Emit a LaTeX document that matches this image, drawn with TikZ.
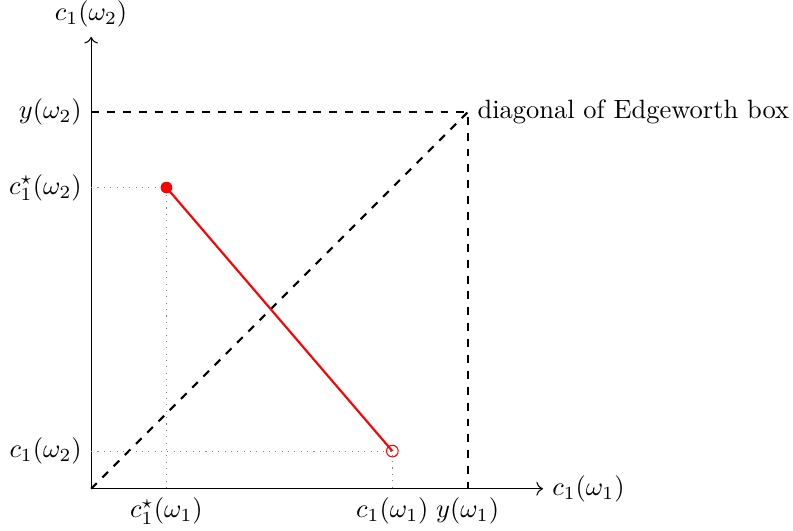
\documentclass[tikz,border=0pt]{standalone}
\usepackage{amsmath,amssymb}
\usetikzlibrary{arrows.meta,calc}

\begin{document}
\begin{tikzpicture}[x=1cm, y=1cm,
    guide/.style={gray, dotted},
    boxline/.style={black, dashed, thick},
    contract/.style={red, thick}]
  \useasboundingbox (-1.21,-0.56) rectangle (9.32,6.49);

  % Key points
  \coordinate (O) at (0,0);
  \coordinate (top) at (5,5);
  \coordinate (star) at (1,4);
  \coordinate (endow) at (4,0.5);

  % Axes
  \draw[->] (O) -- (6,0) node[right] (xlab) {$c_1(\omega_1)$};
  \draw[->] (O) -- (0,6) node[above] (ylab) {$c_1(\omega_2)$};

  % Edgeworth box and its diagonal
  \draw[boxline] (0,5) -- (top) -- (5,0);
  \draw[boxline] (O) -- (top) node[right] (diag) {diagonal of Edgeworth box};

  % Guides to the axes
  \draw[guide] (0,4) -- (star) -- (1,0);
  \draw[guide] (0,0.5) -- (endow) -- (4,0);

  % Tick labels
  \foreach \x/\name/\lab in {1/xs/{$c_1^\star(\omega_1)$}, 4/xe/{$c_1(\omega_1)$}, 5/xy/{$y(\omega_1)$}} {
    \node[below] (\name) at (\x,0) {\lab};
  }
  \foreach \y/\name/\lab in {5/yy/{$y(\omega_2)$}, 4/ys/{$c_1^\star(\omega_2)$}, 0.5/ye/{$c_1(\omega_2)$}} {
    \node[left] (\name) at (0,\y) {\lab};
  }

  % Contract line
  \draw[contract] (star) -- (endow);
  \fill[red] (star) circle (2.2pt);
  \draw[red] (endow) circle (2.2pt);

\end{tikzpicture}
\end{document}
